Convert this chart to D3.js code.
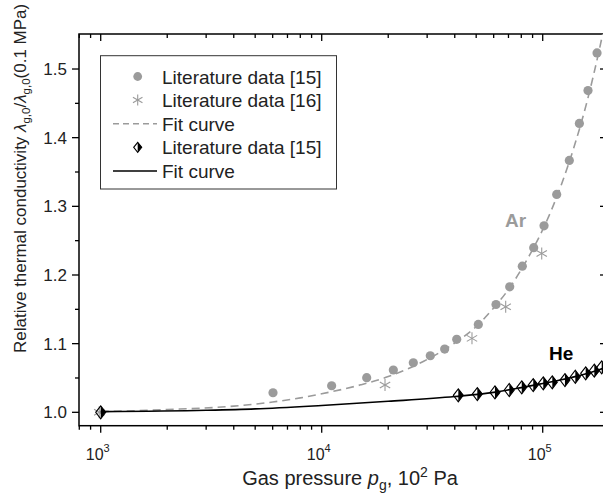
<!DOCTYPE html>
<html><head><meta charset="utf-8">
<script src="https://cdn.jsdelivr.net/npm/d3@7"></script>
<style>body{margin:0;background:#fff}svg{display:block;font-family:"Liberation Sans",Arial,sans-serif}</style>
</head><body><svg id="c" width="603" height="494"></svg>
<script>
// Ar, literature data [15] (circles)
const arCircP = [6020, 11090, 15980, 21090, 25970, 31000, 36010, 40830, 51130, 61480, 70910, 80850, 91040, 101400, 115700, 131960, 146500, 160300, 176100];
const arCircV = [1.0285, 1.0387, 1.0504, 1.0616, 1.0722, 1.0824, 1.0921, 1.1063, 1.128, 1.157, 1.1828, 1.2129, 1.2398, 1.2716, 1.3173, 1.3668, 1.4207, 1.4686, 1.5234];
// Ar, literature data [16] (stars)
const arStarP = [985, 19340, 47860, 68000, 98970];
const arStarV = [1.0, 1.0397, 1.1077, 1.1537, 1.2314];
// Ar fit curve (dashed)
const arFitP = [1000, 2000, 4000, 6000, 8000, 10000, 15000, 20000, 30000, 40000, 50000, 60000, 70000, 80000, 90000, 100000, 120000, 140000, 160000, 180000, 195000];
const arFitV = [1.001, 1.004, 1.009, 1.015, 1.021, 1.027, 1.040, 1.052, 1.077, 1.101, 1.125, 1.152, 1.179, 1.208, 1.237, 1.266, 1.327, 1.391, 1.457, 1.527, 1.58];
// He, literature data [15] (half-filled diamonds)
const heP = [1000, 41500, 50600, 60800, 70600, 80400, 90600, 100600, 110500, 126100, 140500, 156500, 171200, 184900];
const heV = [1.0, 1.0247, 1.0266, 1.029, 1.0325, 1.0364, 1.0397, 1.0422, 1.0437, 1.047, 1.0518, 1.0568, 1.0606, 1.0655];
// He fit curve (solid)
const heFitP = [1000, 3000, 5000, 10000, 20000, 40000, 60000, 80000, 100000, 120000, 140000, 160000, 180000, 195000];
const heFitV = [1.001, 1.003, 1.005, 1.010, 1.016, 1.023, 1.029, 1.036, 1.042, 1.047, 1.052, 1.057, 1.062, 1.066];
// ticks
const yMajor = [1.0, 1.1, 1.2, 1.3, 1.4, 1.5];
const yMinor = [1.05, 1.15, 1.25, 1.35, 1.45];
const xMajor = [1e3, 1e4, 1e5];
const xMajorExp = ["3", "4", "5"];
const xMinor = [800, 900, 2000, 3000, 4000, 5000, 6000, 7000, 8000, 9000, 20000, 30000, 40000, 50000, 60000, 70000, 80000, 90000];
const legendLabels = ["Literature data [15]", "Literature data [16]", "Fit curve", "Literature data [15]", "Fit curve"];

const GRAY = "#9b9b9b";
const L = 79, R = 607, T = 34, B = 425.7;
const svg = d3.select("#c");
const x = d3.scaleLog().domain([797.6, 195400]).range([L, R]);
const y = d3.scaleLinear().domain([0.9805, 1.551]).range([B, T]);

svg.append("defs").append("clipPath").attr("id", "clip")
  .append("rect").attr("x", L).attr("y", T).attr("width", R - L).attr("height", B - T);

// axes ticks
const ax = svg.append("g").attr("stroke", "#000").attr("stroke-width", 1.3);
yMajor.forEach(v => {
  ax.append("line").attr("x1", L - 7).attr("x2", L).attr("y1", y(v)).attr("y2", y(v));
  ax.append("line").attr("x1", R - 7).attr("x2", R).attr("y1", y(v)).attr("y2", y(v));
});
yMinor.forEach(v => {
  ax.append("line").attr("x1", L - 4).attr("x2", L).attr("y1", y(v)).attr("y2", y(v));
  ax.append("line").attr("x1", R - 4).attr("x2", R).attr("y1", y(v)).attr("y2", y(v));
});
xMajor.forEach(v => {
  ax.append("line").attr("x1", x(v)).attr("x2", x(v)).attr("y1", B).attr("y2", B + 7);
  ax.append("line").attr("x1", x(v)).attr("x2", x(v)).attr("y1", T).attr("y2", T + 7);
});
xMinor.forEach(v => {
  ax.append("line").attr("x1", x(v)).attr("x2", x(v)).attr("y1", B).attr("y2", B + 4);
  ax.append("line").attr("x1", x(v)).attr("x2", x(v)).attr("y1", T).attr("y2", T + 4);
});
svg.append("rect").attr("x", L).attr("y", T).attr("width", R - L).attr("height", B - T)
  .attr("fill", "none").attr("stroke", "#000").attr("stroke-width", 1.5);

// tick labels
svg.append("g").selectAll("text").data(yMajor).join("text")
  .attr("x", L - 12).attr("y", d => y(d) + 6).attr("text-anchor", "end")
  .attr("font-size", 17).attr("fill", "#222").text(d => d.toFixed(1));
const xl = svg.append("g").selectAll("text").data(xMajor).join("text")
  .attr("x", d => x(d) - 3).attr("y", 460).attr("text-anchor", "middle")
  .attr("font-size", 16).attr("fill", "#222");
xl.append("tspan").text("10");
xl.append("tspan").attr("dy", -8).attr("font-size", 11).text((d, i) => xMajorExp[i]);

// axis titles
const xt = svg.append("text").attr("x", 350).attr("y", 485).attr("text-anchor", "middle")
  .attr("font-size", 20).attr("fill", "#222");
xt.append("tspan").text("Gas pressure ");
xt.append("tspan").attr("font-style", "italic").text("p");
xt.append("tspan").attr("font-size", 14).attr("dy", 5).text("g");
xt.append("tspan").attr("dy", -5).text(", 10");
xt.append("tspan").attr("font-size", 14).attr("dy", -8).text("2");
xt.append("tspan").attr("dy", 8).text(" Pa");

const yt = svg.append("text").attr("transform", "translate(26,353) rotate(-90)")
  .attr("text-anchor", "start").attr("font-size", 17).attr("fill", "#222");
yt.append("tspan").text("Relative thermal conductivity ");
yt.append("tspan").attr("font-style", "italic").text("λ");
yt.append("tspan").attr("font-size", 11.5).attr("dy", 4).text("g,0");
yt.append("tspan").attr("dy", -4).text("/");
yt.append("tspan").attr("font-style", "italic").text("λ");
yt.append("tspan").attr("font-size", 11.5).attr("dy", 4).text("g,0");
yt.append("tspan").attr("dy", -4).text("(0.1 MPa)");

// plot
const plot = svg.append("g").attr("clip-path", "url(#clip)");
const line = d3.line().x(d => x(d[0])).y(d => y(d[1])).curve(d3.curveMonotoneX);
plot.append("path").attr("d", line(d3.zip(arFitP, arFitV))).attr("fill", "none")
  .attr("stroke", GRAY).attr("stroke-width", 1.6).attr("stroke-dasharray", "8,5");
plot.append("path").attr("d", line(d3.zip(heFitP, heFitV))).attr("fill", "none")
  .attr("stroke", "#000").attr("stroke-width", 1.6);

function star(g, cx, cy, r, color) {
  const s = g.append("g").attr("stroke", color).attr("stroke-width", 1.1);
  [90, 30, 150].forEach(a => {
    const dx = r * Math.cos(a * Math.PI / 180), dy = r * Math.sin(a * Math.PI / 180);
    s.append("line").attr("x1", cx - dx).attr("y1", cy - dy).attr("x2", cx + dx).attr("y2", cy + dy);
  });
}
function diamond(g, cx, cy, w, h) {
  const d = g.append("g");
  d.append("path").attr("d", `M${cx},${cy - h}L${cx + w},${cy}L${cx},${cy + h}Z`).attr("fill", "#000");
  d.append("path").attr("d", `M${cx},${cy - h}L${cx + w},${cy}L${cx},${cy + h}L${cx - w},${cy}Z`)
    .attr("fill", "none").attr("stroke", "#000").attr("stroke-width", 1.1);
}

plot.append("g").selectAll("circle").data(d3.zip(arCircP, arCircV)).join("circle")
  .attr("cx", d => x(d[0])).attr("cy", d => y(d[1])).attr("r", 4.6).attr("fill", GRAY);
d3.zip(arStarP, arStarV).forEach(d => star(plot, x(d[0]), y(d[1]), 6, GRAY));
d3.zip(heP, heV).forEach(d => diamond(plot, x(d[0]), y(d[1]), 5, 6.5));

// labels
svg.append("text").attr("x", 505).attr("y", 227).attr("font-size", 19).attr("font-weight", "bold")
  .attr("fill", GRAY).text("Ar");
svg.append("text").attr("x", 549).attr("y", 360).attr("font-size", 19).attr("font-weight", "bold")
  .attr("fill", "#000").text("He");

// legend
const lg = svg.append("g");
lg.append("rect").attr("x", 100.5).attr("y", 55.7).attr("width", 236).attr("height", 133.3)
  .attr("fill", "#fff").attr("stroke", "#333").attr("stroke-width", 1);
const rowY = i => 76.5 + i * 23.6;
lg.append("circle").attr("cx", 137.7).attr("cy", rowY(0)).attr("r", 4.4).attr("fill", GRAY);
star(lg, 137.7, rowY(1), 5.5, GRAY);
lg.append("line").attr("x1", 113).attr("x2", 157).attr("y1", rowY(2)).attr("y2", rowY(2))
  .attr("stroke", GRAY).attr("stroke-width", 1.5).attr("stroke-dasharray", "6,4");
diamond(lg, 137.7, rowY(3), 4, 5);
lg.append("line").attr("x1", 113).attr("x2", 157).attr("y1", rowY(4)).attr("y2", rowY(4))
  .attr("stroke", "#000").attr("stroke-width", 1.5);
lg.selectAll("text.l").data(legendLabels).join("text").attr("class", "l")
  .attr("x", 162).attr("y", (d, i) => rowY(i) + 7).attr("font-size", 19).attr("fill", "#222").text(d => d);
</script></body></html>
